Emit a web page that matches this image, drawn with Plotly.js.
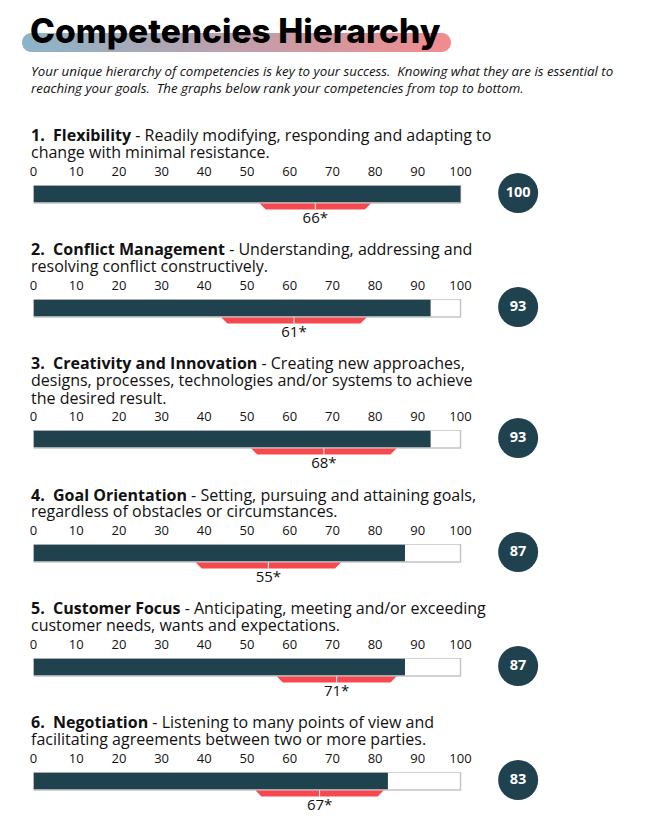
<!DOCTYPE html>
<html><head><meta charset="utf-8">
<script src="https://cdn.plot.ly/plotly-3.0.1.min.js"></script>
<style>html,body{margin:0;padding:0;background:#fff}#c{width:645px;height:840px}</style>
</head><body><div id="c"></div>
<script>
const pageTitle = "Competencies Hierarchy";
const introLines = [
  "Your unique hierarchy of competencies is key to your success.  Knowing what they are is essential to",
  "reaching your goals.  The graphs below rank your competencies from top to bottom."
];
const headingLines = [
  ["<b>1.  Flexibility</b> - Readily modifying, responding and adapting to", "change with minimal resistance."],
  ["<b>2.  Conflict Management</b> - Understanding, addressing and", "resolving conflict constructively."],
  ["<b>3.  Creativity and Innovation</b> - Creating new approaches,", "designs, processes, technologies and/or systems to achieve", "the desired result."],
  ["<b>4.  Goal Orientation</b> - Setting, pursuing and attaining goals,", "regardless of obstacles or circumstances."],
  ["<b>5.  Customer Focus</b> - Anticipating, meeting and/or exceeding", "customer needs, wants and expectations."],
  ["<b>6.  Negotiation</b> - Listening to many points of view and", "facilitating agreements between two or more parties."]
];
const scores = [100, 93, 93, 87, 87, 83];
const means = [66, 61, 68, 55, 71, 67];
const rangeLow = [53, 44, 51, 38, 57, 52];
const rangeHigh = [79, 78, 85, 72, 85, 82];
const tickVals = [0,10,20,30,40,50,60,70,80,90,100];

const W = 645, H = 840;
const barTops = [185, 299, 430, 544, 658, 772];
const headingTops = [135, 249, 363, 494.5, 608, 722];
const FONT = '"Open Sans", sans-serif';
const INK = '#111111', NAVY = '#20424f', RED = '#f5484f', TRACK = '#c4c4c4';
const fy = p => 1 - p / H;
const PXU = 4.27, XMAX = 120, BAND = 45;

const traces = [], annotations = [], layout = {
  width: W, height: H, margin: {l:0,r:0,t:0,b:0,pad:0},
  paper_bgcolor:'#fff', plot_bgcolor:'rgba(0,0,0,0)', showlegend:false,
  barmode:'overlay', font:{family:FONT,color:INK}
};

// page-level pixel axes for the gradient underline
layout.xaxis7 = {domain:[0,1], range:[0,W], visible:false, fixedrange:true};
layout.yaxis7 = {domain:[0,1], range:[H,0], visible:false, fixedrange:true};
const ux=[], uy=[];
const L=22, R=451, T=33, B=52, r=(B-T)/2, cy=(T+B)/2;
for(let i=0;i<=12;i++){const a=Math.PI/2-i*Math.PI/12; ux.push(R-r+r*Math.cos(a)); uy.push(cy-r*Math.sin(a));}
for(let i=0;i<=12;i++){const a=3*Math.PI/2-i*Math.PI/12; ux.push(L+r+r*Math.cos(a)); uy.push(cy-r*Math.sin(a));}
ux.push(ux[0]); uy.push(uy[0]);
traces.push({type:'scatter',x:ux,y:uy,xaxis:'x7',yaxis:'y7',mode:'none',fill:'toself',hoverinfo:'skip',
  fillgradient:{type:'horizontal',colorscale:[[0,'#8bb4c8'],[1,'#f28b8e']]}});

scores.forEach((s,i)=>{
  const n=i+1, top=barTops[i], xa='x'+n, ya='y'+n;
  layout['xaxis'+n]={domain:[33.5/W,(33.5+PXU*XMAX)/W],range:[0,XMAX],side:'top',anchor:'y'+n,tickmode:'array',
    tickvals:tickVals,ticktext:tickVals.map(String),ticks:'',showgrid:false,zeroline:false,showline:false,
    tickfont:{family:FONT,size:13,color:INK},ticklabelstandoff:5,fixedrange:true};
  layout['yaxis'+n]={domain:[fy(top+BAND),fy(top)],range:[BAND,0],visible:false,fixedrange:true,anchor:'x'+n};
  traces.push({type:'bar',orientation:'h',x:[100],y:[9],width:[18],xaxis:xa,yaxis:ya,cliponaxis:false,
    marker:{color:'#ffffff',line:{color:TRACK,width:1.5}},hoverinfo:'skip'});
  traces.push({type:'bar',orientation:'h',x:[s],y:[9],width:[16.5],xaxis:xa,yaxis:ya,cliponaxis:false,
    marker:{color:NAVY,line:{width:0}},hoverinfo:'skip'});
  traces.push({type:'scatter',mode:'none',fill:'toself',fillcolor:RED,xaxis:xa,yaxis:ya,hoverinfo:'skip',
    x:[rangeLow[i],rangeHigh[i],rangeHigh[i]-1.4,rangeLow[i]+1.4,rangeLow[i]],y:[18.5,18.5,24.5,24.5,18.5]});
  traces.push({type:'scatter',mode:'lines',line:{color:'#ffffff',width:1},xaxis:xa,yaxis:ya,hoverinfo:'skip',
    x:[means[i],means[i]],y:[18.5,24.5]});
  traces.push({type:'scatter',mode:'text',text:[means[i]+'*'],textposition:'middle center',xaxis:xa,yaxis:ya,cliponaxis:false,
    textfont:{family:FONT,size:15,color:INK},x:[means[i]],y:[34.5],hoverinfo:'skip'});
  traces.push({type:'scatter',mode:'markers+text',text:['<b>'+s+'</b>'],textposition:'middle center',xaxis:xa,yaxis:ya,cliponaxis:false,
    textfont:{family:FONT,size:14.5,color:'#ffffff'},marker:{size:40,color:NAVY,line:{width:0}},x:[113.5],y:[8],hoverinfo:'skip'});
  headingLines[i].forEach((t,k)=>{
    annotations.push({xref:'paper',yref:'paper',x:30/W,y:fy(headingTops[i]+[0,17,35][k]),xanchor:'left',yanchor:'middle',
      showarrow:false,align:'left',text:t,font:{family:FONT,size:16,color:INK},borderpad:0});
  });
});

annotations.push({xref:'paper',yref:'paper',x:29/W,y:fy(31),xanchor:'left',yanchor:'middle',showarrow:false,
  text:pageTitle,font:{family:'Inter, sans-serif',size:33.5,weight:800,color:'#000'},borderpad:0});
introLines.forEach((t,k)=>annotations.push({xref:'paper',yref:'paper',x:30/W,y:fy(71+17*k),xanchor:'left',yanchor:'middle',
  showarrow:false,text:'<i>'+t+'</i>',font:{family:FONT,size:13.3,color:INK},borderpad:0}));
layout.annotations=annotations;

Plotly.newPlot('c',traces,layout,{displayModeBar:false,staticPlot:true});
</script></body></html>
